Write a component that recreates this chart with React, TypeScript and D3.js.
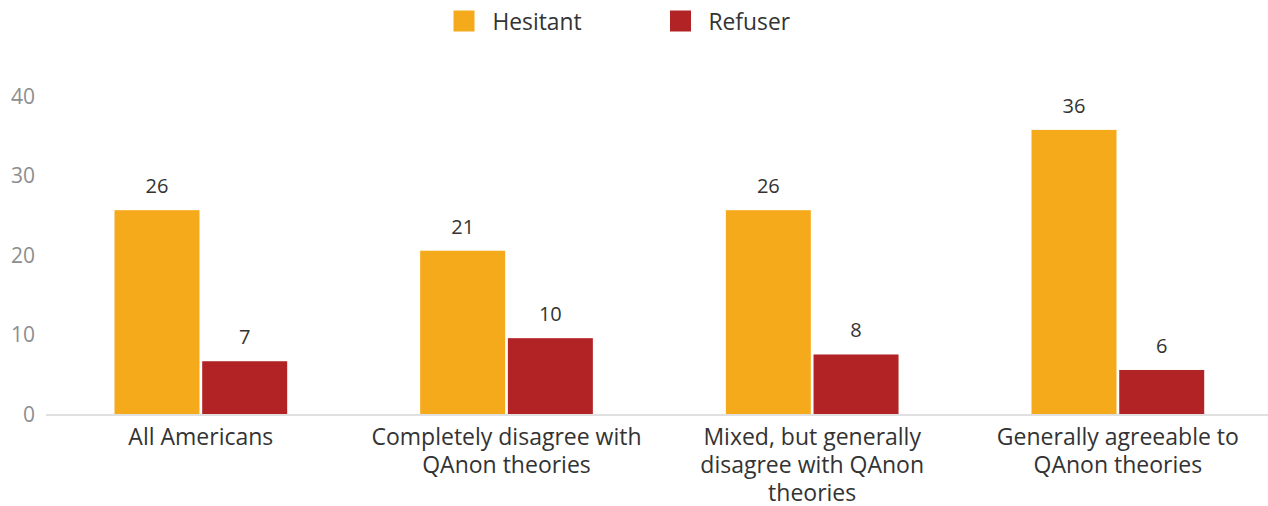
import React from "react";
import * as d3 from "d3";

const categories: string[][] = [
  ["All Americans"],
  ["Completely disagree with", "QAnon theories"],
  ["Mixed, but generally", "disagree with QAnon", "theories"],
  ["Generally agreeable to", "QAnon theories"],
];
const seriesNames = ["Hesitant", "Refuser"];
const seriesColors = ["#F5AA1C", "#B22325"];
const hesitant = [25.7, 20.6, 25.7, 35.8];
const refuser = [6.7, 9.6, 7.55, 5.6];
const valueLabels = [
  ["26", "21", "26", "36"],
  ["7", "10", "8", "6"],
];
const yTicks = [0, 10, 20, 30, 40];

const W = 1268;
const H = 506;
const FONT = "'Open Sans', 'Noto Sans', sans-serif";

export default function App() {
  const series = [hesitant, refuser];
  const x = d3
    .scaleBand<number>()
    .domain(categories.map((_, i) => i))
    .range([48, 1270.7])
    .paddingInner(0)
    .paddingOuter(0);
  const step = x.step();
  const groupW = 172.7;
  const xs = d3
    .scaleBand<number>()
    .domain(seriesNames.map((_, i) => i))
    .range([(step - groupW) / 2, (step + groupW) / 2])
    .paddingInner(0.031)
    .paddingOuter(0);
  const y = d3.scaleLinear().domain([0, 40]).range([414.5, 96.5]);

  return (
    <svg
      width={W}
      height={H}
      style={{ position: "absolute", left: 0, top: 0, display: "block" }}
      fontFamily={FONT}
    >
      <rect x={0} y={0} width={W} height={H} fill="#fff" />
      {/* legend */}
      <g>
        <rect x={453.5} y={10.5} width={21} height={21} fill={seriesColors[0]} />
        <text x={492.5} y={29.5} fontSize={22.8} fill="#333">
          {seriesNames[0]}
        </text>
        <rect x={670} y={10.5} width={21} height={21} fill={seriesColors[1]} />
        <text x={708.5} y={29.5} fontSize={22.8} fill="#333">
          {seriesNames[1]}
        </text>
      </g>
      {/* y axis labels */}
      {yTicks.map((t) => (
        <text
          key={t}
          x={35}
          y={y(t) + 7}
          textAnchor="end"
          fontSize={21}
          fill="#8e8e8e"
        >
          {t}
        </text>
      ))}
      {/* bars */}
      {series.map((vals, si) =>
        vals.map((v, ci) => {
          const bx = (x(ci) as number) + (xs(si) as number);
          const bw = xs.bandwidth();
          return (
            <g key={`${si}-${ci}`}>
              <rect
                x={bx}
                y={y(v)}
                width={bw}
                height={y(0) - y(v)}
                fill={seriesColors[si]}
              />
              <text
                x={bx + bw / 2}
                y={y(v) - 17}
                textAnchor="middle"
                fontSize={20}
                fill="#333"
              >
                {valueLabels[si][ci]}
              </text>
            </g>
          );
        })
      )}
      {/* x axis line */}
      <line x1={46} x2={W} y1={415} y2={415} stroke="#e0e0e0" strokeWidth={2} />
      {/* category labels */}
      {categories.map((lines, ci) => (
        <text
          key={ci}
          x={(x(ci) as number) + step / 2}
          y={445}
          textAnchor="middle"
          fontSize={23}
          fill="#333"
        >
          {lines.map((l, li) => (
            <tspan key={li} x={(x(ci) as number) + step / 2} dy={li === 0 ? 0 : 28}>
              {l}
            </tspan>
          ))}
        </text>
      ))}
    </svg>
  );
}
